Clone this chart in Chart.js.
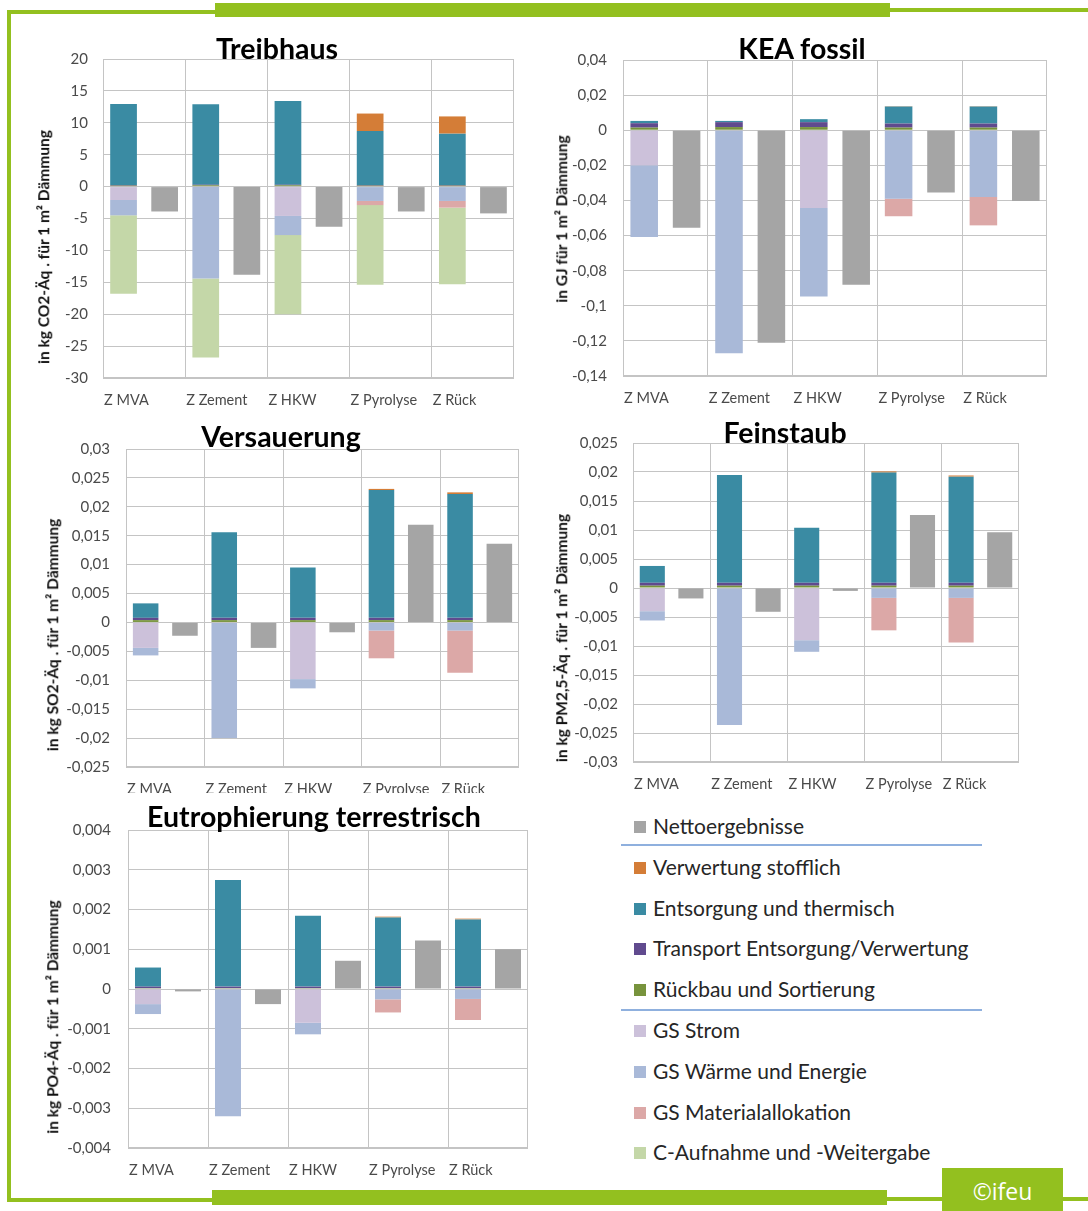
<!DOCTYPE html>
<html lang="de">
<head>
<meta charset="UTF-8">
<title>Wirkungskategorien Dämmung</title>
<script src="https://cdn.jsdelivr.net/npm/chart.js"></script>
<style>
  body { margin: 0; width: 1088px; height: 1211px; background: #fff; position: relative; overflow: hidden; font-family: Lato, sans-serif; }
  .g { position: absolute; background: #93c01f; }
  .box { position: absolute; }
  .title { position: absolute; font-weight: bold; font-size: 28.5px; color: #000; transform: translate(-50%, -50%); white-space: nowrap; line-height: 1; z-index: 2; }
  .ytitle { position: absolute; font-weight: bold; font-size: 15.5px; color: #111; transform: translate(-50%, -50%) rotate(-90deg); white-space: nowrap; line-height: 1; }
  .leg { position: absolute; left: 634px; font-size: 21px; color: #262626; white-space: nowrap; line-height: 1; }
  .leg span.sw { display: inline-block; width: 12px; height: 12px; margin-right: 7px; vertical-align: 1px; }
  .sep { position: absolute; left: 621px; width: 361px; height: 2px; background: #8fb0de; }
  #ifeu { position: absolute; left: 942px; top: 1168px; width: 121px; height: 43px; background: #93c01f; color: #fff; font-size: 23px; text-align: center; line-height: 46px; font-family: "Open Sans", sans-serif; }
</style>
</head>
<body>
<div class="g" style="left:7px; top:10px; width:210px; height:4px"></div>
<div class="g" style="left:215px; top:3px; width:675px; height:14px"></div>
<div class="g" style="left:888px; top:8px; width:200px; height:4px"></div>
<div class="g" style="left:7px; top:10px; width:4px; height:1192px"></div>
<div class="g" style="left:7px; top:1198px; width:207px; height:4px"></div>
<div class="g" style="left:212px; top:1190px; width:675px; height:15px"></div>
<div class="g" style="left:885px; top:1197px; width:203px; height:4px"></div>
<div id="ifeu">©ifeu</div>

<script>
const categories = ['Z MVA', 'Z Zement', 'Z HKW', 'Z Pyrolyse', 'Z Rück'];

// Treibhaus, kg CO2-Äq.
const thRueckbau   = [0.15, 0.2, 0.2, 0.15, 0.15];
const thTransport  = [0.1, 0.1, 0.1, 0.1, 0.1];
const thEntsorgung = [12.7, 12.6, 13.1, 8.45, 8.05];
const thVerwertung = [0, 0, 0, 2.75, 2.7];
const thStrom      = [-2.1, 0, -4.6, 0, 0];
const thWaerme     = [-2.4, -14.4, -3.0, -2.25, -2.25];
const thMaterial   = [0, 0, 0, -0.65, -1.05];
const thCAufnahme  = [-12.3, -12.4, -12.4, -12.5, -12.0];
const thNetto      = [-3.9, -13.8, -6.3, -3.9, -4.2];

// KEA fossil, GJ
const keaRueckbau   = [0.0015, 0.0018, 0.0018, 0.0015, 0.0015];
const keaTransport  = [0.0025, 0.0028, 0.0028, 0.0023, 0.0023];
const keaEntsorgung = [0.0013, 0.0007, 0.0017, 0.0097, 0.0097];
const keaVerwertung = [0, 0, 0, 0.0002, 0.0002];
const keaStrom      = [-0.02, 0, -0.0443, 0, 0];
const keaWaerme     = [-0.0408, -0.127, -0.0504, -0.039, -0.038];
const keaMaterial   = [0, 0, 0, -0.010, -0.0162];
const keaCAufnahme  = [0, 0, 0, 0, 0];
const keaNetto      = [-0.0555, -0.121, -0.088, -0.0355, -0.0403];

// Versauerung, kg SO2-Äq.
const vsRueckbau   = [0.0004, 0.0004, 0.0004, 0.0004, 0.0004];
const vsTransport  = [0.0004, 0.0004, 0.0004, 0.0004, 0.0004];
const vsEntsorgung = [0.0025, 0.0148, 0.0087, 0.0221, 0.0214];
const vsVerwertung = [0, 0, 0, 0.0002, 0.0003];
const vsStrom      = [-0.0044, 0, -0.0098, 0, 0];
const vsWaerme     = [-0.0013, -0.02, -0.0016, -0.0014, -0.0014];
const vsMaterial   = [0, 0, 0, -0.0048, -0.0073];
const vsCAufnahme  = [0, 0, 0, 0, 0];
const vsNetto      = [-0.0023, -0.0044, -0.0017, 0.0169, 0.0136];

// Feinstaub, kg PM2,5-Äq.
const fsRueckbau   = [0.0004, 0.0004, 0.0004, 0.0004, 0.0004];
const fsTransport  = [0.0005, 0.0005, 0.0005, 0.0005, 0.0005];
const fsEntsorgung = [0.0029, 0.0186, 0.0095, 0.019, 0.0183];
const fsVerwertung = [0, 0, 0, 0.0002, 0.0002];
const fsStrom      = [-0.004, 0, -0.009, 0, 0];
const fsWaerme     = [-0.0016, -0.0236, -0.002, -0.0017, -0.0017];
const fsMaterial   = [0, 0, 0, -0.0056, -0.0077];
const fsCAufnahme  = [0, 0, 0, 0, 0];
const fsNetto      = [-0.0018, -0.0041, -0.0005, 0.0126, 0.0096];

// Eutrophierung terrestrisch, kg PO4-Äq.
const euRueckbau   = [0.00002, 0.00002, 0.00002, 0.00002, 0.00002];
const euTransport  = [0.00004, 0.00004, 0.00004, 0.00004, 0.00004];
const euEntsorgung = [0.00048, 0.00268, 0.00178, 0.00174, 0.00169];
const euVerwertung = [0, 0, 0, 0.00002, 0.00002];
const euStrom      = [-0.00038, 0, -0.00085, 0, 0];
const euWaerme     = [-0.00025, -0.0032, -0.00029, -0.00026, -0.00025];
const euMaterial   = [0, 0, 0, -0.00033, -0.00053];
const euCAufnahme  = [0, 0, 0, 0, 0];
const euNetto      = [-0.00006, -0.00038, 0.00071, 0.00122, 0.001];

// stacking order (bottom up from zero, then downward)
const stackNames  = ['Rückbau und Sortierung', 'Transport Entsorgung/Verwertung', 'Entsorgung und thermisch', 'Verwertung stofflich',
                     'GS Strom', 'GS Wärme und Energie', 'GS Materialallokation', 'C-Aufnahme und -Weitergabe'];
const stackColors = ['#77933c', '#604a8e', '#3a8ba3', '#d47d37', '#ccc1da', '#a9b9d8', '#dca8a7', '#c4d7a8'];
const nettoName = 'Nettoergebnisse';
const nettoColor = '#a5a5a5';

const gridColor = '#c4c4c4';
const tickColor = '#4a4a4a';

const panels = [
  { title: 'Treibhaus', yTitle: 'in kg CO2-Äq . für 1 m² Dämmung', min: -30, max: 20, step: 5,
    stack: [thRueckbau, thTransport, thEntsorgung, thVerwertung, thStrom, thWaerme, thMaterial, thCAufnahme], netto: thNetto,
    plot: [103, 59, 514, 378], titleAt: [277, 48], yTitleAt: [44, 247], tickPad: 15 },
  { title: 'KEA fossil', yTitle: 'in GJ für 1 m² Dämmung', min: -0.14, max: 0.04, step: 0.02,
    stack: [keaRueckbau, keaTransport, keaEntsorgung, keaVerwertung, keaStrom, keaWaerme, keaMaterial, keaCAufnahme], netto: keaNetto,
    plot: [623, 60, 1047, 376], titleAt: [802, 48], yTitleAt: [562, 219], tickPad: 16 },
  { title: 'Versauerung', yTitle: 'in kg SO2-Äq . für 1 m² Dämmung', min: -0.025, max: 0.03, step: 0.005,
    stack: [vsRueckbau, vsTransport, vsEntsorgung, vsVerwertung, vsStrom, vsWaerme, vsMaterial, vsCAufnahme], netto: vsNetto,
    plot: [126, 449, 519, 767], titleAt: [281, 436], yTitleAt: [53, 635], tickPad: 16, clip: 793 },
  { title: 'Feinstaub', yTitle: 'in kg PM2,5-Äq . für 1 m² Dämmung', min: -0.03, max: 0.025, step: 0.005,
    stack: [fsRueckbau, fsTransport, fsEntsorgung, fsVerwertung, fsStrom, fsWaerme, fsMaterial, fsCAufnahme], netto: fsNetto,
    plot: [633, 443, 1019, 762], titleAt: [785, 432], yTitleAt: [562, 638], tickPad: 15 },
  { title: 'Eutrophierung terrestrisch', yTitle: 'in kg PO4-Äq . für 1 m² Dämmung', min: -0.004, max: 0.004, step: 0.001,
    stack: [euRueckbau, euTransport, euEntsorgung, euVerwertung, euStrom, euWaerme, euMaterial, euCAufnahme], netto: euNetto,
    plot: [128, 830, 528, 1148], titleAt: [314, 816], yTitleAt: [53, 1017], tickPad: 17 }
];

const frame = {
  id: 'frame',
  beforeDatasetsDraw(chart) {
    const { ctx, chartArea: a } = chart;
    ctx.save();
    ctx.strokeStyle = gridColor;
    ctx.lineWidth = 1;
    ctx.strokeRect(Math.round(a.left) + 0.5, Math.round(a.top) + 0.5, Math.round(a.right - a.left) - 1, Math.round(a.bottom - a.top) - 1);
    ctx.restore();
  }
};

function fmt(v) {
  const r = Math.round(v * 1e6) / 1e6;
  return String(r).replace('.', ',');
}

function addText(cls, text, x, y) {
  const d = document.createElement('div');
  d.className = cls;
  d.textContent = text;
  d.style.left = x + 'px';
  d.style.top = y + 'px';
  document.body.appendChild(d);
}

function makePanel(p) {
  // y tick padding also pads the top of the chart area, so leave room for it
  const Wy = 70, padTop = 32, padRight = 8;
  const Hx = p.clip ? p.clip - p.plot[3] : 36;
  const plotW = p.plot[2] - p.plot[0], plotH = p.plot[3] - p.plot[1];

  const box = document.createElement('div');
  box.className = 'box';
  box.style.left = (p.plot[0] - Wy) + 'px';
  box.style.top = (p.plot[1] - padTop) + 'px';
  box.style.width = (Wy + plotW + padRight) + 'px';
  box.style.height = (padTop + plotH + Hx) + 'px';
  const cv = document.createElement('canvas');
  box.appendChild(cv);
  document.body.appendChild(box);

  addText('title', p.title, p.titleAt[0], p.titleAt[1]);
  addText('ytitle', p.yTitle, p.yTitleAt[0], p.yTitleAt[1]);

  const labels = categories.flatMap(c => [c, '']);
  const datasets = stackNames.map((name, i) => ({
    label: name,
    data: p.stack[i].flatMap(v => [v, null]),
    backgroundColor: stackColors[i],
    borderWidth: 0,
    barPercentage: 0.65,
    categoryPercentage: 1
  }));
  datasets.push({
    label: nettoName,
    data: p.netto.flatMap(v => [null, v]),
    backgroundColor: nettoColor,
    borderWidth: 0,
    barPercentage: 0.65,
    categoryPercentage: 1
  });

  new Chart(cv, {
    type: 'bar',
    data: { labels, datasets },
    options: {
      responsive: true,
      maintainAspectRatio: false,
      animation: false,
      layout: { padding: { top: padTop, right: padRight, left: 0, bottom: 0 } },
      plugins: { legend: { display: false }, tooltip: { enabled: false } },
      scales: {
        x: {
          stacked: true,
          grid: { offset: true, drawTicks: false, color: c => (c.index % 2 === 0 ? gridColor : 'rgba(0,0,0,0)') },
          border: { display: false },
          ticks: {
            autoSkip: false, maxRotation: 0, minRotation: 0, align: 'start',
            labelOffset: -plotW / 20 + 1, padding: 14, color: tickColor,
            font: { family: 'Lato', size: 14.5 }
          },
          afterFit: s => { s.height = Hx; }
        },
        y: {
          stacked: true,
          min: p.min, max: p.max,
          grid: { drawTicks: false, color: gridColor },
          border: { display: false },
          ticks: { stepSize: p.step, padding: p.tickPad, color: tickColor, font: { family: 'Lato', size: 15 }, callback: fmt },
          afterFit: s => { s.width = Wy; }
        }
      }
    },
    plugins: [frame]
  });
}

panels.forEach(makePanel);

// legend
const legendNames  = [nettoName, stackNames[3], stackNames[2], stackNames[1], stackNames[0], stackNames[4], stackNames[5], stackNames[6], stackNames[7]];
const legendColors = [nettoColor, stackColors[3], stackColors[2], stackColors[1], stackColors[0], stackColors[4], stackColors[5], stackColors[6], stackColors[7]];
legendNames.forEach((name, i) => {
  const d = document.createElement('div');
  d.className = 'leg';
  d.style.top = (826 + i * 40.8 - 11) + 'px';
  const sw = document.createElement('span');
  sw.className = 'sw';
  sw.style.background = legendColors[i];
  d.appendChild(sw);
  d.appendChild(document.createTextNode(name));
  document.body.appendChild(d);
});
[845, 1010].forEach(y => {
  const s = document.createElement('div');
  s.className = 'sep';
  s.style.top = (y - 1) + 'px';
  document.body.appendChild(s);
});
</script>
</body>
</html>
